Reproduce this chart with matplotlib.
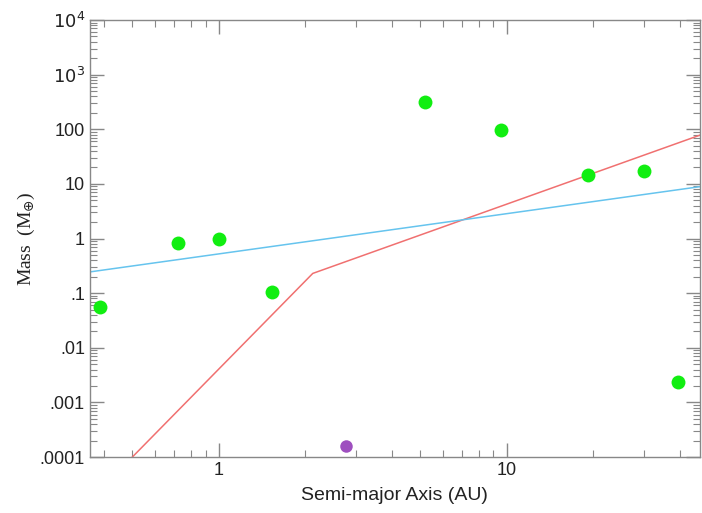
import matplotlib.pyplot as plt
from matplotlib.ticker import FixedLocator, FixedFormatter, LogLocator, NullFormatter

# planet data (semi-major axis in AU, mass in Earth masses)
planet_a = [0.387, 0.723, 1.0, 1.524, 5.20, 9.54, 19.2, 30.1, 39.5]
planet_m = [0.055, 0.815, 1.0, 0.107, 318.0, 95.2, 14.5, 17.1, 0.0024]

ceres_a = [2.77]
ceres_m = [0.00016]

# model curves
red_a = [0.50, 2.12, 47.0]
red_m = [0.0001, 0.23, 78.0]
blue_a = [0.356, 47.0]
blue_m = [0.245, 8.9]

y_ticks = [1e-4, 1e-3, 1e-2, 1e-1, 1, 10, 100, 1e3, 1e4]
y_labels = [".0001", ".001", ".01", ".1", "1", "10", "100", r"$10^3$", r"$10^4$"]

fig = plt.figure(figsize=(7.02, 5.13), dpi=100)
ax = fig.add_axes([0.128, 0.109, 0.869, 0.852])

ax.plot(red_a, red_m, color="#f07070", lw=1.1)
ax.plot(blue_a, blue_m, color="#66c4ee", lw=1.1)
ax.plot(planet_a, planet_m, "o", color="#11ee11", ms=10, mec="none")
ax.plot(ceres_a, ceres_m, "o", color="#9e4fbf", ms=9, mec="none")

ax.set_xscale("log")
ax.set_yscale("log")
ax.set_xlim(0.356, 47.0)
ax.set_ylim(1e-4, 1e4)

ax.yaxis.set_major_locator(FixedLocator(y_ticks))
ax.yaxis.set_major_formatter(FixedFormatter(y_labels))
ax.yaxis.set_minor_locator(LogLocator(base=10, subs=range(2, 10), numticks=20))
ax.yaxis.set_minor_formatter(NullFormatter())

ax.xaxis.set_major_locator(FixedLocator([1, 10]))
ax.xaxis.set_major_formatter(FixedFormatter(["1", "10"]))
ax.xaxis.set_minor_locator(LogLocator(base=10, subs=range(2, 10), numticks=20))
ax.xaxis.set_minor_formatter(NullFormatter())

for s in ax.spines.values():
    s.set_color("#888888")
    s.set_linewidth(1.0)

ax.tick_params(which="both", direction="in", top=True, right=True,
               colors="#888888", labelcolor="#222222", labelsize=13)
ax.tick_params(which="major", length=10, width=1)
ax.tick_params(which="minor", length=5, width=0.8)
for lab in ax.get_xticklabels() + ax.get_yticklabels():
    lab.set_family("Liberation Sans")

ax.set_xlabel("Semi-major Axis (AU)", fontsize=14, family="Liberation Sans",
              color="#222222", labelpad=6)
ax.set_ylabel(r"Mass  (M$_{\oplus}$)", fontsize=14, family="Liberation Serif",
              color="#222222", labelpad=2)

fig.savefig("out.png", dpi=100)
